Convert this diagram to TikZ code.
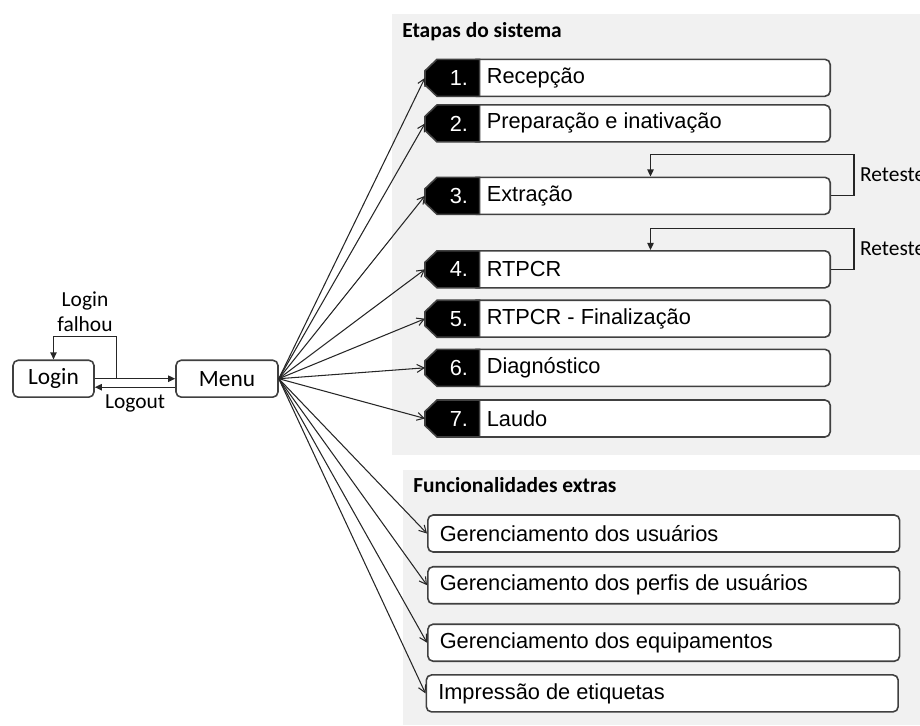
\documentclass[tikz,border=0pt]{standalone}
\usepackage{fontspec}
\setmainfont{Liberation Sans}
\newfontfamily\carlito{Carlito}
\usetikzlibrary{arrows.meta}
\definecolor{panelgray}{HTML}{F1F1F1}
\definecolor{edgegray}{HTML}{404040}

\newcommand{\txtbox}{\fontsize{12.4pt}{14pt}\selectfont}
\newcommand{\txtnote}{\carlito\fontsize{12.2pt}{14.2pt}\selectfont}
\newcommand{\txtkey}{\carlito\fontsize{13.3pt}{15pt}\selectfont}
\newcommand{\txthead}{\carlito\bfseries\fontsize{12.2pt}{14pt}\selectfont}

\begin{document}
\begin{tikzpicture}[x=0.02cm, y=-0.02cm,
  panel/.style={fill=panelgray},
  stepbox/.style={draw=edgegray, line width=0.9pt, fill=white, rounded corners=3pt,
    anchor=west, minimum height=0.74cm, inner ysep=0pt, inner xsep=0.32cm,
    text width=6.55cm, align=flush left, font=\txtbox},
  tagshape/.style={fill=black, draw=edgegray, line width=0.9pt},
  tagnum/.style={anchor=east, text=white, inner sep=0pt, font=\txtbox},
  extrabox/.style={stepbox, inner xsep=0.24cm, text width=8.96cm},
  keybox/.style={draw=edgegray, line width=0.9pt, fill=white, rounded corners=3pt,
    minimum height=0.74cm, font=\txtkey, inner sep=0pt},
  fan/.style={draw=black!85, line width=0.6pt, -{Straight Barb[length=4pt,width=4.5pt]}},
  flow/.style={draw=black!85, line width=0.7pt, -{Triangle[length=4pt,width=3.6pt]}},
  note/.style={font=\txtnote, inner sep=0pt},
  head/.style={font=\txthead, inner sep=0pt, anchor=west}]

\useasboundingbox (0,0) rectangle (920,725);

% background panels
\fill[panel] (392,13.5) rectangle (920,455);
\fill[panel] (403,470) rectangle (920,725);

% panel headings
\node[head] (h1) at (402,32) {Etapas do sistema};
\node[head] (h2) at (413,485.5) {Funcionalidades extras};

% numbered stages with black tags
\foreach \i/\y/\t in {1/77.8/Recepção, 2/123.4/Preparação e inativação, 3/195.8/Extração,
    4/269.3/RTPCR, 5/318.7/RTPCR - Finalização, 6/367.8/Diagnóstico, 7/418.5/Laudo} {
  \node[stepbox] (s\i) at (470,\y) {\t};
  \path[tagshape] (479.6,\y-18.5) -- (437,\y-18.5) -- (425,\y-7) -- (425,\y+7)
    -- (437,\y+18.5) -- (479.6,\y+18.5) -- cycle;
  \node[tagnum] (n\i) at (468.4,\y) {\i.};
  \coordinate (t\i) at (425,\y);
}

% extra features
\node[extrabox] (e1) at (427,533.5) {Gerenciamento dos usuários};
\node[extrabox] (e2) at (427,585.2) {Gerenciamento dos perfis de usuários};
\node[extrabox] (e3) at (427,642.7) {Gerenciamento dos equipamentos};
\node[extrabox] (e4) at (425.5,693.4) {Impressão de etiquetas};

% login and menu
\node[keybox, minimum width=1.62cm] (login) at (53.5,378.7) {Login};
\node[keybox, minimum width=2.04cm] (menu) at (227,378.7) {Menu};

\draw[flow] (login.east) -- coordinate[pos=0.27] (fork) (menu.west);
\draw[flow] ([yshift=-0.17cm]menu.west) -- ([yshift=-0.17cm]login.east)
  node[note, midway, below=0.13cm] (logout) {Logout};
\draw[flow] (fork) -- ++(0,-42) -| (login.north);
\node[note, align=center] (fail) at (85,312) {Login\\falhou};

% menu fan-out
\foreach \i in {1,...,7} \draw[fan] (menu.east) -- (t\i);
\foreach \i in {1,...,4} \draw[fan] (menu.east) -- (e\i.west);

% retest loops
\draw[flow] (s3.east) -- ++(23,0) -- ++(0,-41.6)
  node[note, midway, right=0.11cm] (r3) {Reteste} -| (s3.north);
\draw[flow] (s4.east) -- ++(23,0) -- ++(0,-40.7)
  node[note, midway, right=0.11cm] (r4) {Reteste} -| (s4.north);

\end{tikzpicture}
\end{document}
